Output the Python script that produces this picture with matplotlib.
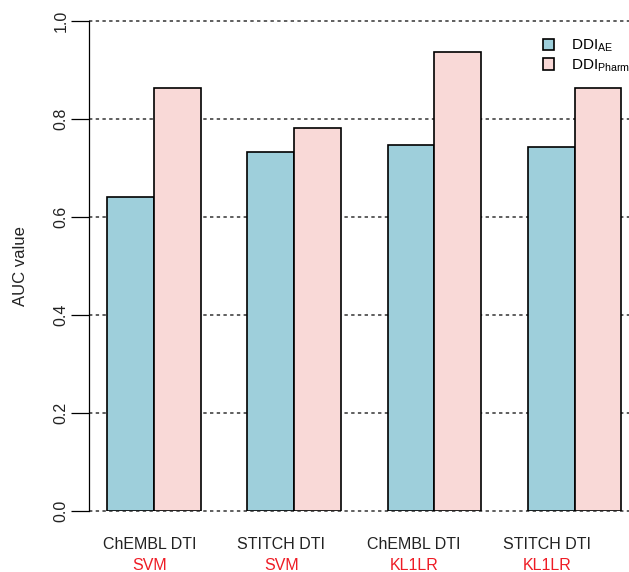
import matplotlib
matplotlib.use("Agg")
import matplotlib.pyplot as plt
from matplotlib.patches import Patch
import numpy as np

plt.rcParams['font.family'] = ['Liberation Sans', 'DejaVu Sans']
plt.rcParams['mathtext.fontset'] = 'custom'
plt.rcParams['mathtext.rm'] = 'Liberation Sans'

datasets = ["ChEMBL DTI", "STITCH DTI", "ChEMBL DTI", "STITCH DTI"]
methods = ["SVM", "SVM", "KL1LR", "KL1LR"]
auc_ae = [0.640, 0.732, 0.746, 0.743]
auc_pharm = [0.863, 0.780, 0.936, 0.863]
yticks = [0.0, 0.2, 0.4, 0.6, 0.8, 1.0]
# x positions (bar units) of the group captions under the axis
label_at = [1.92, 4.73, 7.57, 10.41]

W, H = 629, 572
fig = plt.figure(figsize=(W / 100, H / 100), dpi=100)

# axes box in pixel coordinates
left_px, right_px = 89, 629
bottom_px, top_px = 510.7, 20.7
ax = fig.add_axes([left_px / W, 1 - bottom_px / H,
                   (right_px - left_px) / W, (bottom_px - top_px) / H])

unit = 46.75
x0 = 1 - (107 - left_px) / unit
x1 = 1 + (right_px - 107) / unit
ax.set_xlim(x0, x1)
ax.set_ylim(0, 1)

# barplot layout: groups of two bars, one bar-width gap between groups
n = len(auc_ae)
starts = 1 + 3 * np.arange(n)
c_ae = '#9ECFDB'
c_ph = '#F9D9D7'
ax.bar(starts, auc_ae, width=1, align='edge', color=c_ae, edgecolor='black',
       linewidth=1.2, zorder=3)
ax.bar(starts + 1, auc_pharm, width=1, align='edge', color=c_ph, edgecolor='black',
       linewidth=1.2, zorder=3)

# dotted horizontal reference lines
for y in yticks:
    ax.axhline(y, color='#333333', linestyle=(0, (2.2, 2.2)), linewidth=1.1,
               zorder=1, clip_on=False)

for s in ['top', 'right', 'bottom']:
    ax.spines[s].set_visible(False)
ax.spines['left'].set_bounds(0, 1)
ax.spines['left'].set_linewidth(0.9)
ax.set_yticks(yticks)
ax.set_yticklabels([f"{v:.1f}" for v in yticks], rotation=90, va='center',
                   fontsize=11.5, color='#222222')
ax.tick_params(axis='y', length=13, width=0.9, pad=1.5)
ax.set_xticks([])

fig.text(21 / W, 1 - 266 / H, "AUC value", rotation=90, ha='center', va='center',
         fontsize=12, color='#222222')

for cx, d, m in zip(label_at, datasets, methods):
    ax.text(cx, -0.069, d, ha='center', va='center', fontsize=11.5,
            color='#222222', transform=ax.transData, clip_on=False)
    ax.text(cx, -0.111, m, ha='center', va='center', fontsize=11.5,
            color='#EE1C25', transform=ax.transData, clip_on=False)

handles = [Patch(facecolor=c_ae, edgecolor='black', linewidth=1.2),
           Patch(facecolor=c_ph, edgecolor='black', linewidth=1.2)]
labels = [r'DDI$_{\mathrm{AE}}$', r'DDI$_{\mathrm{Pharm}}$']
fig.legend(handles, labels, loc='upper left',
           bbox_to_anchor=(535 / W, 1 - 30 / H), frameon=False,
           fontsize=11, handlelength=0.75, handleheight=0.75,
           handletextpad=1.1, labelspacing=0.2, borderpad=0)

fig.savefig("out.png", dpi=100)
